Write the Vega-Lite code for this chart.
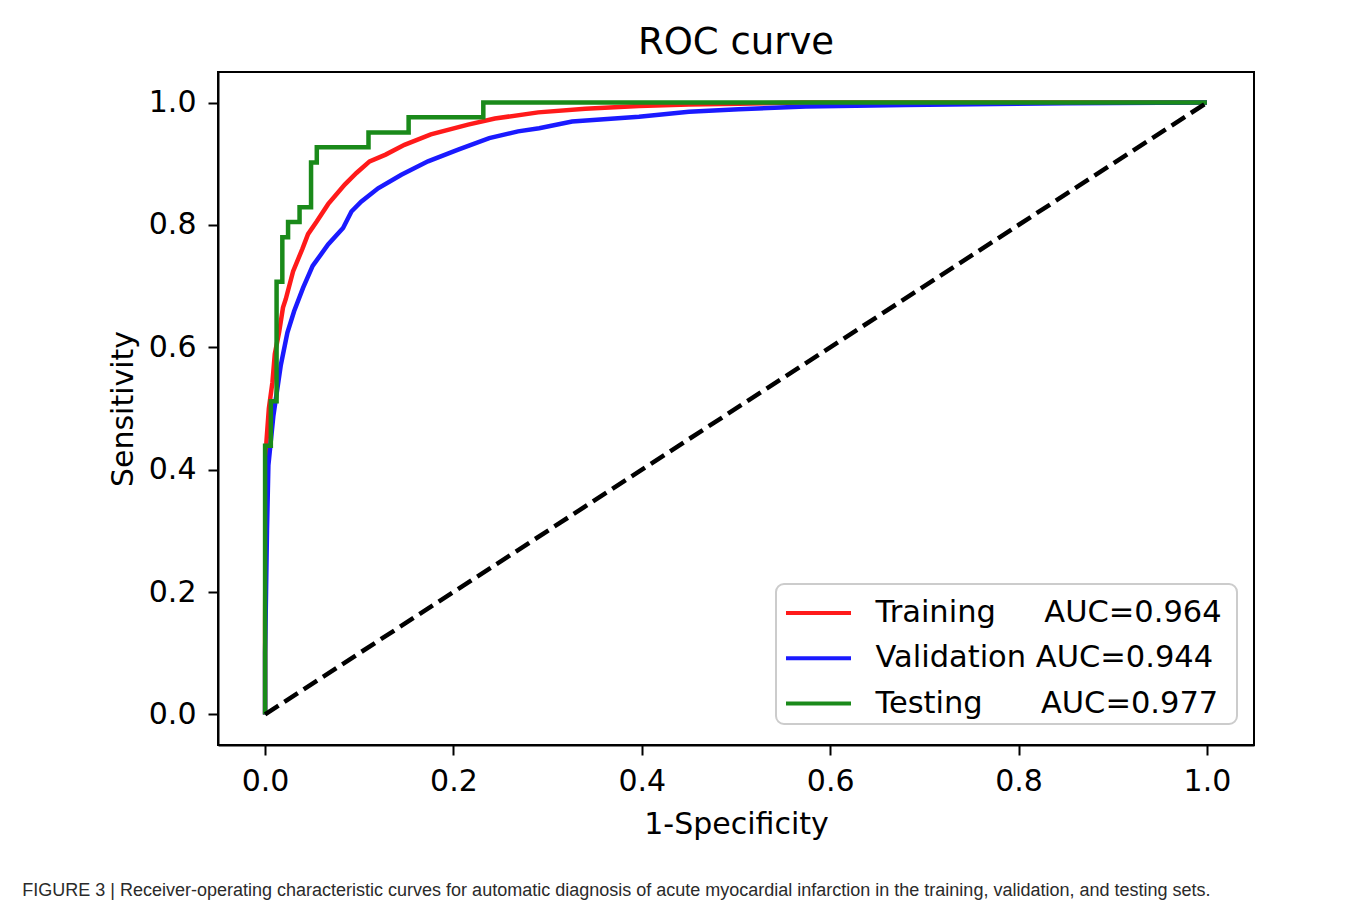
{
  "$schema": "https://vega.github.io/schema/vega-lite/v6.json",
  "background": "white",
  "padding": {"left": 22, "top": 23, "right": 100, "bottom": 10},
  "title": {
    "text": "FIGURE 3 | Receiver-operating characteristic curves for automatic diagnosis of acute myocardial infarction in the training, validation, and testing sets.",
    "orient": "bottom",
    "anchor": "start",
    "font": "Liberation Sans, Arial",
    "fontSize": 18,
    "fontWeight": "normal",
    "color": "#2a2a2a",
    "dx": -85,
    "offset": 42
  },
  "config": {
    "font": "DejaVu Sans",
    "view": {"stroke": "black", "strokeWidth": 2},
    "axis": {
      "labelFont": "DejaVu Sans",
      "titleFont": "DejaVu Sans",
      "labelFontSize": 30,
      "titleFontSize": 30,
      "titleFontWeight": "normal",
      "labelColor": "black",
      "titleColor": "black",
      "domainColor": "black",
      "domainWidth": 2,
      "tickColor": "black",
      "tickWidth": 2,
      "tickSize": 10,
      "grid": false,
      "labelFlush": false,
      "labelOverlap": false
    },
    "axisX": {"titlePadding": 13, "labelPadding": 11},
    "axisY": {"titlePadding": 10, "labelPadding": 12},
    "legend": {
      "orient": "none",
      "legendX": 558,
      "legendY": 512,
      "labelFont": "DejaVu Sans",
      "labelFontSize": 30.5,
      "labelColor": "black",
      "labelLimit": 0,
      "symbolType": "M-1.5,0H1.5",
      "symbolSize": 1878,
      "symbolStrokeWidth": 4,
      "symbolOffset": 13.5,
      "rowPadding": 5.25,
      "padding": 5,
      "strokeColor": "#cccccc",
      "strokeWidth": 2,
      "fillColor": "white",
      "cornerRadius": 8,
      "labelOffset": 33
    }
  },
  "vconcat": [
    {
      "title": {"text": "ROC curve", "font": "DejaVu Sans", "fontSize": 37, "fontWeight": "normal", "color": "black", "offset": 10},
      "width": 1036,
      "height": 673,
      "layer": [
        {
          "data": {
            "values": [
              {"set": "Training", "idx": 0, "fpr": 0, "tpr": 0},
              {"set": "Training", "idx": 1, "fpr": 0, "tpr": 0.15},
              {"set": "Training", "idx": 2, "fpr": 0.0005, "tpr": 0.3},
              {"set": "Training", "idx": 3, "fpr": 0.001, "tpr": 0.4},
              {"set": "Training", "idx": 4, "fpr": 0.0014, "tpr": 0.445},
              {"set": "Training", "idx": 5, "fpr": 0.004, "tpr": 0.5},
              {"set": "Training", "idx": 6, "fpr": 0.0078, "tpr": 0.543},
              {"set": "Training", "idx": 7, "fpr": 0.0103, "tpr": 0.589},
              {"set": "Training", "idx": 8, "fpr": 0.0149, "tpr": 0.625},
              {"set": "Training", "idx": 9, "fpr": 0.019, "tpr": 0.665},
              {"set": "Training", "idx": 10, "fpr": 0.022, "tpr": 0.679},
              {"set": "Training", "idx": 11, "fpr": 0.0297, "tpr": 0.724},
              {"set": "Training", "idx": 12, "fpr": 0.0396, "tpr": 0.761},
              {"set": "Training", "idx": 13, "fpr": 0.0456, "tpr": 0.785},
              {"set": "Training", "idx": 14, "fpr": 0.055, "tpr": 0.806},
              {"set": "Training", "idx": 15, "fpr": 0.0669, "tpr": 0.834},
              {"set": "Training", "idx": 16, "fpr": 0.0846, "tpr": 0.866},
              {"set": "Training", "idx": 17, "fpr": 0.097, "tpr": 0.885},
              {"set": "Training", "idx": 18, "fpr": 0.111, "tpr": 0.904},
              {"set": "Training", "idx": 19, "fpr": 0.128, "tpr": 0.915},
              {"set": "Training", "idx": 20, "fpr": 0.148, "tpr": 0.931},
              {"set": "Training", "idx": 21, "fpr": 0.176, "tpr": 0.948},
              {"set": "Training", "idx": 22, "fpr": 0.2155, "tpr": 0.964},
              {"set": "Training", "idx": 23, "fpr": 0.244, "tpr": 0.974},
              {"set": "Training", "idx": 24, "fpr": 0.29, "tpr": 0.984},
              {"set": "Training", "idx": 25, "fpr": 0.34, "tpr": 0.99},
              {"set": "Training", "idx": 26, "fpr": 0.397, "tpr": 0.9945},
              {"set": "Training", "idx": 27, "fpr": 0.45, "tpr": 0.997},
              {"set": "Training", "idx": 28, "fpr": 0.503, "tpr": 0.998},
              {"set": "Training", "idx": 29, "fpr": 0.57, "tpr": 1.0},
              {"set": "Training", "idx": 30, "fpr": 1.0, "tpr": 1.0},
              {"set": "Validation", "idx": 0, "fpr": 0, "tpr": 0},
              {"set": "Validation", "idx": 1, "fpr": 0, "tpr": 0.1},
              {"set": "Validation", "idx": 2, "fpr": 0.001, "tpr": 0.2},
              {"set": "Validation", "idx": 3, "fpr": 0.002, "tpr": 0.3},
              {"set": "Validation", "idx": 4, "fpr": 0.0035, "tpr": 0.407},
              {"set": "Validation", "idx": 5, "fpr": 0.0088, "tpr": 0.488},
              {"set": "Validation", "idx": 6, "fpr": 0.0166, "tpr": 0.57},
              {"set": "Validation", "idx": 7, "fpr": 0.0237, "tpr": 0.624},
              {"set": "Validation", "idx": 8, "fpr": 0.0308, "tpr": 0.659},
              {"set": "Validation", "idx": 9, "fpr": 0.0403, "tpr": 0.697},
              {"set": "Validation", "idx": 10, "fpr": 0.0505, "tpr": 0.733},
              {"set": "Validation", "idx": 11, "fpr": 0.0669, "tpr": 0.768},
              {"set": "Validation", "idx": 12, "fpr": 0.0828, "tpr": 0.795},
              {"set": "Validation", "idx": 13, "fpr": 0.0917, "tpr": 0.822},
              {"set": "Validation", "idx": 14, "fpr": 0.102, "tpr": 0.838},
              {"set": "Validation", "idx": 15, "fpr": 0.12, "tpr": 0.86},
              {"set": "Validation", "idx": 16, "fpr": 0.1447, "tpr": 0.882},
              {"set": "Validation", "idx": 17, "fpr": 0.173, "tpr": 0.904},
              {"set": "Validation", "idx": 18, "fpr": 0.205, "tpr": 0.923},
              {"set": "Validation", "idx": 19, "fpr": 0.238, "tpr": 0.942},
              {"set": "Validation", "idx": 20, "fpr": 0.2686, "tpr": 0.953},
              {"set": "Validation", "idx": 21, "fpr": 0.291, "tpr": 0.958},
              {"set": "Validation", "idx": 22, "fpr": 0.326, "tpr": 0.969},
              {"set": "Validation", "idx": 23, "fpr": 0.397, "tpr": 0.977},
              {"set": "Validation", "idx": 24, "fpr": 0.45, "tpr": 0.985},
              {"set": "Validation", "idx": 25, "fpr": 0.503, "tpr": 0.989},
              {"set": "Validation", "idx": 26, "fpr": 0.574, "tpr": 0.9935},
              {"set": "Validation", "idx": 27, "fpr": 0.68, "tpr": 0.996},
              {"set": "Validation", "idx": 28, "fpr": 0.85, "tpr": 0.999},
              {"set": "Validation", "idx": 29, "fpr": 1.0, "tpr": 1.0},
              {"set": "Testing", "idx": 0, "fpr": 0, "tpr": 0},
              {"set": "Testing", "idx": 1, "fpr": 0, "tpr": 0.439},
              {"set": "Testing", "idx": 2, "fpr": 0.0061, "tpr": 0.439},
              {"set": "Testing", "idx": 3, "fpr": 0.0061, "tpr": 0.512},
              {"set": "Testing", "idx": 4, "fpr": 0.0122, "tpr": 0.512},
              {"set": "Testing", "idx": 5, "fpr": 0.0122, "tpr": 0.707},
              {"set": "Testing", "idx": 6, "fpr": 0.0183, "tpr": 0.707},
              {"set": "Testing", "idx": 7, "fpr": 0.0183, "tpr": 0.78},
              {"set": "Testing", "idx": 8, "fpr": 0.0244, "tpr": 0.78},
              {"set": "Testing", "idx": 9, "fpr": 0.0244, "tpr": 0.805},
              {"set": "Testing", "idx": 10, "fpr": 0.0366, "tpr": 0.805},
              {"set": "Testing", "idx": 11, "fpr": 0.0366, "tpr": 0.829},
              {"set": "Testing", "idx": 12, "fpr": 0.0488, "tpr": 0.829},
              {"set": "Testing", "idx": 13, "fpr": 0.0488, "tpr": 0.902},
              {"set": "Testing", "idx": 14, "fpr": 0.0549, "tpr": 0.902},
              {"set": "Testing", "idx": 15, "fpr": 0.0549, "tpr": 0.927},
              {"set": "Testing", "idx": 16, "fpr": 0.1098, "tpr": 0.927},
              {"set": "Testing", "idx": 17, "fpr": 0.1098, "tpr": 0.951},
              {"set": "Testing", "idx": 18, "fpr": 0.1524, "tpr": 0.951},
              {"set": "Testing", "idx": 19, "fpr": 0.1524, "tpr": 0.976},
              {"set": "Testing", "idx": 20, "fpr": 0.2317, "tpr": 0.976},
              {"set": "Testing", "idx": 21, "fpr": 0.2317, "tpr": 1.0},
              {"set": "Testing", "idx": 22, "fpr": 1.0, "tpr": 1.0}
            ]
          },
          "mark": {"type": "line", "strokeWidth": 4.5, "strokeJoin": "miter", "clip": true},
          "encoding": {
            "x": {
              "field": "fpr",
              "type": "quantitative",
              "title": "1-Specificity",
              "scale": {"domain": [-0.05, 1.05], "nice": false, "zero": false},
              "axis": {"values": [0, 0.2, 0.4, 0.6, 0.8, 1.0], "format": ".1f"}
            },
            "y": {
              "field": "tpr",
              "type": "quantitative",
              "title": "Sensitivity",
              "scale": {"domain": [-0.05, 1.05], "nice": false, "zero": false},
              "axis": {"values": [0, 0.2, 0.4, 0.6, 0.8, 1.0], "format": ".1f"}
            },
            "color": {
              "field": "set",
              "type": "nominal",
              "scale": {"domain": ["Training", "Validation", "Testing"], "range": ["#ff1a1a", "#1a1aff", "#1a8a1a"]},
              "legend": {
                "title": null,
                "labelExpr": "datum.label == 'Training' ? 'Training\u00a0\u00a0\u00a0\u00a0\u00a0AUC=0.964\u00a0\u200b' : datum.label == 'Validation' ? 'Validation\u00a0AUC=0.944' : 'Testing\u00a0\u00a0\u00a0\u00a0\u00a0\u00a0AUC=0.977'"
              }
            },
            "order": {"field": "idx", "type": "quantitative"}
          }
        },
        {
          "data": {"values": [{"fpr": 0, "tpr": 0}, {"fpr": 1, "tpr": 1}]},
          "mark": {"type": "line", "color": "black", "strokeWidth": 4.5, "strokeDash": [16, 7]},
          "encoding": {
            "x": {"field": "fpr", "type": "quantitative"},
            "y": {"field": "tpr", "type": "quantitative"}
          }
        }
      ]
    }
  ]
}
